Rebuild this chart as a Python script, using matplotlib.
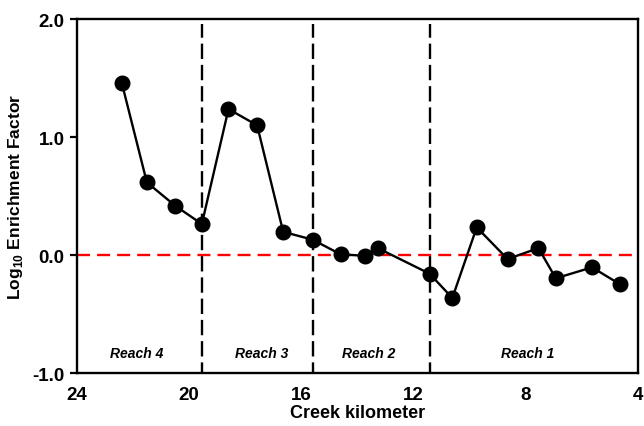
import matplotlib
matplotlib.use('Agg')
import matplotlib.pyplot as plt

plt.rcParams['font.family'] = ['Liberation Sans', 'DejaVu Sans']
plt.rcParams['mathtext.fontset'] = 'custom'
plt.rcParams['mathtext.rm'] = 'Liberation Sans:bold'
plt.rcParams['mathtext.bf'] = 'Liberation Sans:bold'

# creek kilometer and log10 enrichment factor
km = [22.40, 21.51, 20.50, 19.55, 18.60, 17.58, 16.65, 15.60, 14.60,
      13.75, 13.26, 11.43, 10.62, 9.75, 8.65, 7.55, 6.93, 5.64, 4.64]
log_ef = [1.455, 0.616, 0.418, 0.263, 1.237, 1.100, 0.197, 0.130, 0.006,
          -0.006, 0.057, -0.158, -0.364, 0.235, -0.034, 0.059, -0.197, -0.104, -0.248]

# reach boundaries and labels
boundaries = [19.55, 15.60, 11.43]
reach_names = ['Reach 4', 'Reach 3', 'Reach 2', 'Reach 1']
reach_centers = [21.86, 17.4, 13.6, 7.93]

fig = plt.figure(figsize=(6.44, 4.27), dpi=100)
ax = fig.add_axes([0.1196, 0.124, 0.8711, 0.829])

# zero line
ax.axhline(0, color='#ff0000', linewidth=1.7, linestyle=(0, (5.5, 3)), zorder=1)

# reach boundaries
for b in boundaries:
    ax.axvline(b, ymin=0, ymax=0.985, color='black', linewidth=1.7,
               linestyle=(2, (6.5, 2.5)), zorder=1)

ax.plot(km, log_ef, color='black', linewidth=1.7, marker='o',
        markersize=10.5, zorder=3)

for name, c in zip(reach_names, reach_centers):
    ax.text(c, -0.83, name, ha='center', va='center', fontsize=10,
            style='italic', fontweight='bold')

ax.set_xlim(24, 4)
ax.set_ylim(-1, 2)
ax.set_xticks([24, 20, 16, 12, 8, 4])
ax.set_yticks([-1, 0, 1, 2])
ax.set_yticklabels(['-1.0', '0.0', '1.0', '2.0'])

ax.tick_params(axis='x', length=0, pad=9, labelsize=13.5)
ax.tick_params(axis='y', direction='out', length=5, width=1.6, pad=4, labelsize=13.5)
for lbl in ax.get_xticklabels() + ax.get_yticklabels():
    lbl.set_fontweight('bold')

for s in ax.spines.values():
    s.set_linewidth(1.7)

ax.set_xlabel('Creek kilometer', fontsize=13, fontweight='bold', labelpad=1)
ax.set_ylabel(r'Log$_{\mathbf{10}}$ Enrichment Factor', fontsize=12.5,
              fontweight='bold', labelpad=5)

fig.savefig('out.png', dpi=100)
